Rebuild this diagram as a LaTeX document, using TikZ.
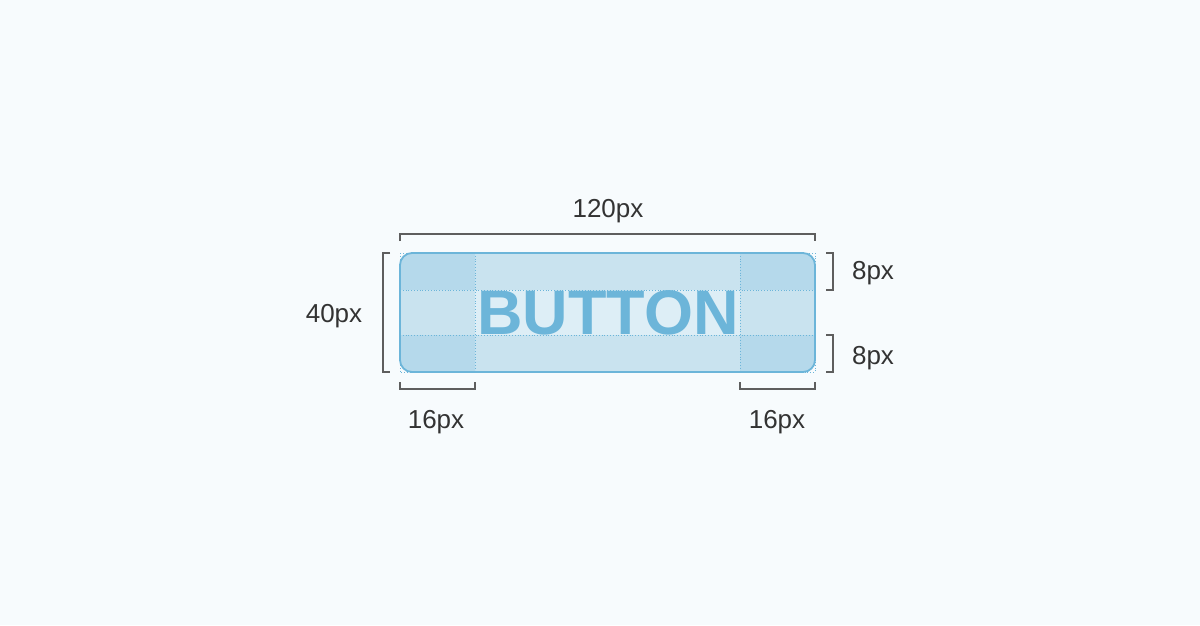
\documentclass[tikz,border=0pt]{standalone}
\usepackage{fontspec}
\setmainfont{Liberation Sans}
\usetikzlibrary{positioning, calc}

\definecolor{pagebg}{HTML}{F7FBFD}
\definecolor{btnblue}{HTML}{6CB5D9}
\definecolor{cornerfill}{HTML}{B5D9EB}
\definecolor{edgefill}{HTML}{C9E3EF}
\definecolor{centerfill}{HTML}{DDEEF6}
\definecolor{dimgray}{HTML}{5E5E5E}
\definecolor{labelgray}{HTML}{333333}

\begin{document}
\begin{tikzpicture}[
    x=1pt, y=-1pt,
    % Core styles
    gridline/.style={draw=btnblue, line width=0.8pt, dotted},
    btnborder/.style={draw=btnblue, line width=1.8pt, rounded corners=12pt},
    btntext/.style={
        inner sep=0pt, text=btnblue,
        font=\fontsize{63}{63}\selectfont\bfseries
    },
    dimline/.style={draw=dimgray, line width=1.25pt},
    dimlabel/.style={
        inner sep=0pt, anchor=base, text=labelgray,
        font=\fontsize{26}{26}\selectfont
    }
]

% === BACKGROUND ===
\fill[pagebg] (0,0) rectangle (1200,625);

% === BUTTON CELLS (9-slice) ===
\begin{scope}
    \clip[rounded corners=12pt] (400,253) rectangle (815,372);
    \fill[edgefill] (400,253) rectangle (815,372);
    \fill[cornerfill] (400,253) rectangle (475,290);
    \fill[cornerfill] (740,253) rectangle (815,290);
    \fill[cornerfill] (400,335) rectangle (475,372);
    \fill[cornerfill] (740,335) rectangle (815,372);
    \fill[centerfill] (475,290) rectangle (740,335);
\end{scope}

% Slice guides
\draw[gridline] (400,253) rectangle (815,372);
\draw[gridline] (475,253) -- (475,372);
\draw[gridline] (740,253) -- (740,372);
\draw[gridline] (400,290) -- (815,290);
\draw[gridline] (400,335) -- (815,335);

% Button outline and label
\draw[btnborder] (400,253) rectangle (815,372);
\node[btntext] (btn) at (608,312.5) {BUTTON};

% === DIMENSION BRACKETS ===
% Width (top)
\coordinate (wl) at (400,234);
\coordinate (wr) at (815,234);
\draw[dimline] ($(wl)+(0,7)$) -- (wl) -- (wr) -- ($(wr)+(0,7)$);
\node[dimlabel] (wlabel) at (608,217) {120px};

% Height (left)
\coordinate (ht) at (383,253);
\coordinate (hb) at (383,372);
\draw[dimline] ($(ht)+(7,0)$) -- (ht) -- (hb) -- ($(hb)+(7,0)$);
\node[dimlabel] (hlabel) at (334,322) {40px};

% Vertical padding (right)
\coordinate (pt1) at (833,253);
\coordinate (pt2) at (833,290);
\draw[dimline] ($(pt1)+(-7,0)$) -- (pt1) -- (pt2) -- ($(pt2)+(-7,0)$);
\node[dimlabel] (ptlabel) at (873,279) {8px};

\coordinate (pb1) at (833,335);
\coordinate (pb2) at (833,372);
\draw[dimline] ($(pb1)+(-7,0)$) -- (pb1) -- (pb2) -- ($(pb2)+(-7,0)$);
\node[dimlabel] (pblabel) at (873,364) {8px};

% Horizontal padding (bottom)
\coordinate (pl1) at (400,389);
\coordinate (pl2) at (475,389);
\draw[dimline] ($(pl1)+(0,-7)$) -- (pl1) -- (pl2) -- ($(pl2)+(0,-7)$);
\node[dimlabel] (pllabel) at (436,428) {16px};

\coordinate (pr1) at (740,389);
\coordinate (pr2) at (815,389);
\draw[dimline] ($(pr1)+(0,-7)$) -- (pr1) -- (pr2) -- ($(pr2)+(0,-7)$);
\node[dimlabel] (prlabel) at (777,428) {16px};

\end{tikzpicture}
\end{document}
